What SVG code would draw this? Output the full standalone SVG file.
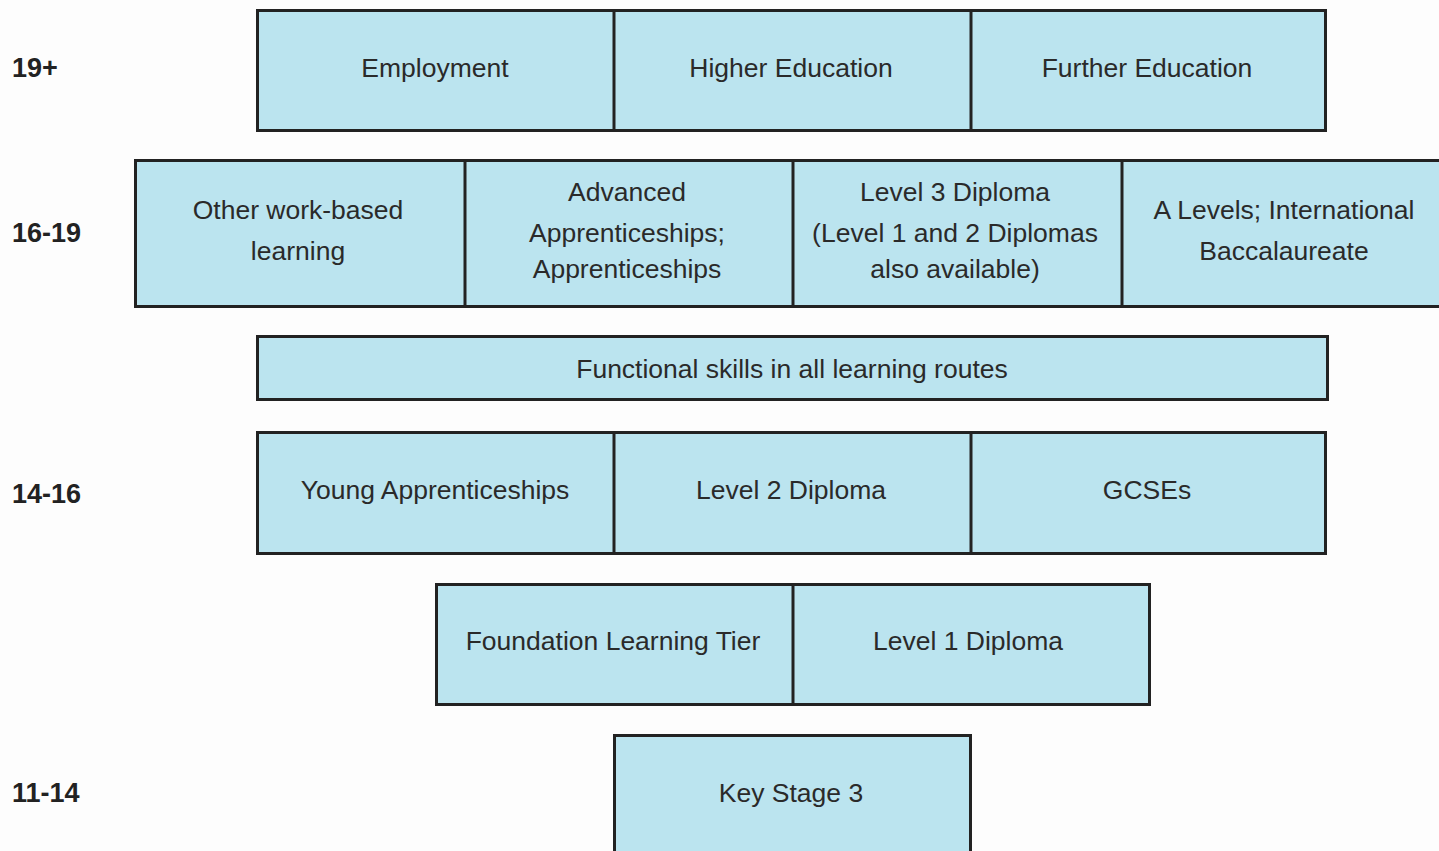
<svg xmlns="http://www.w3.org/2000/svg" width="1439" height="851" viewBox="0 0 1439 851">
<style>
.bg{fill:#fdfdfd}
.box{fill:#bbe4ef;stroke:#222;stroke-width:3}
.div{stroke:#222;stroke-width:3}
.t{font-family:"Liberation Sans",Arial,sans-serif;font-size:26.5px;fill:#2a2a2a;text-anchor:middle;dominant-baseline:central}
.age{font-family:"Liberation Sans",Arial,sans-serif;font-size:27px;font-weight:bold;fill:#222;dominant-baseline:central}
</style>
<rect class="bg" x="0" y="0" width="1439" height="851"/>
<g id="ages">
<text class="age" x="12" y="68">19+</text>
<text class="age" x="12" y="233">16-19</text>
<text class="age" x="12" y="494">14-16</text>
<text class="age" x="12" y="793">11-14</text>
</g>
<g id="row-19plus">
<rect class="box" x="257.5" y="10.5" width="1068" height="120"/>
<line class="div" x1="614" y1="10" x2="614" y2="131"/>
<line class="div" x1="971" y1="10" x2="971" y2="131"/>
<g id="employment"><text class="t" x="435" y="68">Employment</text></g>
<g id="higher-education"><text class="t" x="791" y="68">Higher Education</text></g>
<g id="further-education"><text class="t" x="1147" y="68">Further Education</text></g>
</g>
<g id="row-16-19">
<rect class="box" x="135.5" y="160.5" width="1310" height="146"/>
<line class="div" x1="465" y1="160" x2="465" y2="307"/>
<line class="div" x1="793" y1="160" x2="793" y2="307"/>
<line class="div" x1="1122" y1="160" x2="1122" y2="307"/>
<g id="other-work-based"><text class="t" x="298" y="210">Other work-based</text><text class="t" x="298" y="251">learning</text></g>
<g id="apprenticeships"><text class="t" x="627" y="192">Advanced</text><text class="t" x="627" y="233">Apprenticeships;</text><text class="t" x="627" y="269">Apprenticeships</text></g>
<g id="level3"><text class="t" x="955" y="192">Level 3 Diploma</text><text class="t" x="955" y="233">(Level 1 and 2 Diplomas</text><text class="t" x="955" y="269">also available)</text></g>
<g id="a-levels"><text class="t" x="1284" y="210">A Levels; International</text><text class="t" x="1284" y="251">Baccalaureate</text></g>
</g>
<g id="functional-skills">
<rect class="box" x="257.5" y="336.5" width="1070" height="63"/>
<text class="t" x="792" y="369">Functional skills in all learning routes</text>
</g>
<g id="row-14-16">
<rect class="box" x="257.5" y="432.5" width="1068" height="121"/>
<line class="div" x1="614" y1="432" x2="614" y2="554"/>
<line class="div" x1="971" y1="432" x2="971" y2="554"/>
<g id="young-apprenticeships"><text class="t" x="435" y="490">Young Apprenticeships</text></g>
<g id="level2"><text class="t" x="791" y="490">Level 2 Diploma</text></g>
<g id="gcses"><text class="t" x="1147" y="490">GCSEs</text></g>
</g>
<g id="row-foundation">
<rect class="box" x="436.5" y="584.5" width="713" height="120"/>
<line class="div" x1="793" y1="584" x2="793" y2="705"/>
<g id="foundation-learning-tier"><text class="t" x="613" y="641">Foundation Learning Tier</text></g>
<g id="level1"><text class="t" x="968" y="641">Level 1 Diploma</text></g>
</g>
<g id="key-stage-3">
<rect class="box" x="614.5" y="735.5" width="356" height="130"/>
<text class="t" x="791" y="793">Key Stage 3</text>
</g>
<g id="connectors"/>
</svg>
